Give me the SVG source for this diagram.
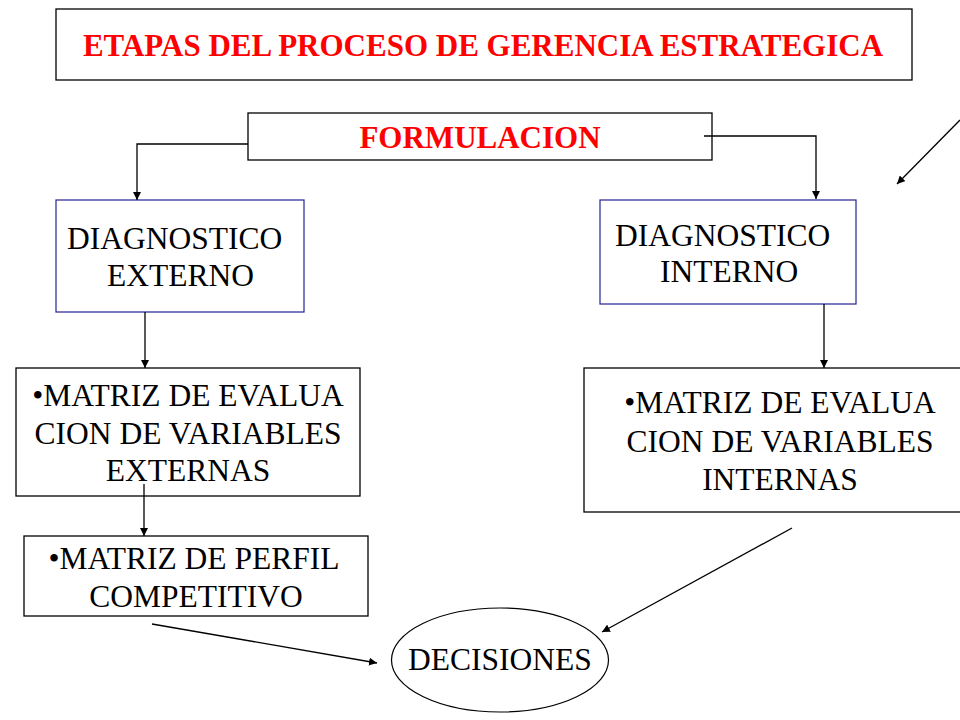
<svg xmlns="http://www.w3.org/2000/svg" width="960" height="720" viewBox="0 0 960 720">
<style>
.box{fill:#fff;stroke:#000;stroke-width:1.3}
.blue{fill:#fff;stroke:#333399;stroke-width:1.3}
.t{font-family:'Liberation Serif','Times New Roman',Times,'DejaVu Serif',serif;font-size:31.5px;fill:#000}
.r{font-family:'Liberation Serif','Times New Roman',Times,'DejaVu Serif',serif;font-size:31px;font-weight:bold;fill:#ff0000}
.c{fill:none;stroke:#000;stroke-width:1.3}
</style>
<defs>
<marker id="ah" viewBox="0 0 10 10" refX="10" refY="5" markerWidth="8" markerHeight="8" markerUnits="userSpaceOnUse" orient="auto">
<path d="M0,0 L10,5 L0,10 z" fill="#000"/>
</marker>
</defs>
<rect width="960" height="720" fill="#fff"/>
<g id="title">
<rect class="box" x="56" y="9" width="856" height="71"/>
<text class="r" x="483" y="56" text-anchor="middle">ETAPAS DEL PROCESO DE GERENCIA ESTRATEGICA</text>
</g>
<g id="formulacion">
<rect class="box" x="248" y="113" width="464" height="47"/>
<text class="r" x="480" y="148" text-anchor="middle">FORMULACION</text>
</g>
<g id="diag-externo">
<rect class="blue" x="56" y="200" width="248" height="112"/>
<text class="t" x="67" y="249">DIAGNOSTICO</text>
<text class="t" x="107" y="286">EXTERNO</text>
</g>
<g id="diag-interno">
<rect class="blue" x="600" y="200" width="256" height="104"/>
<text class="t" x="615" y="246">DIAGNOSTICO</text>
<text class="t" x="660" y="282">INTERNO</text>
</g>
<g id="matriz-externas">
<rect class="box" x="16" y="368" width="344" height="128"/>
<text class="t" x="188" y="406" text-anchor="middle">•MATRIZ DE EVALUA</text>
<text class="t" x="188" y="444" text-anchor="middle">CION DE VARIABLES</text>
<text class="t" x="188" y="481" text-anchor="middle">EXTERNAS</text>
</g>
<g id="matriz-internas">
<rect class="box" x="584" y="368" width="380" height="144"/>
<text class="t" x="780" y="413" text-anchor="middle">•MATRIZ DE EVALUA</text>
<text class="t" x="780" y="452" text-anchor="middle">CION DE VARIABLES</text>
<text class="t" x="780" y="490" text-anchor="middle">INTERNAS</text>
</g>
<g id="matriz-perfil">
<rect class="box" x="24" y="536" width="344" height="80"/>
<text class="t" x="194" y="569" text-anchor="middle">•MATRIZ DE PERFIL</text>
<text class="t" x="196" y="607" text-anchor="middle">COMPETITIVO</text>
</g>
<g id="decisiones">
<ellipse cx="500" cy="660" rx="108.5" ry="52" fill="#fff" stroke="#000" stroke-width="1.2"/>
<text class="t" x="500" y="670" text-anchor="middle">DECISIONES</text>
</g>
<g id="connectors">
<polyline class="c" points="248,144 137,144 137,200" marker-end="url(#ah)"/>
<polyline class="c" points="704,136 816,136 816,199" marker-end="url(#ah)"/>
<line class="c" x1="960" y1="120" x2="897" y2="184" marker-end="url(#ah)"/>
<line class="c" x1="145" y1="312" x2="145" y2="368" marker-end="url(#ah)"/>
<line class="c" x1="144" y1="484" x2="144" y2="536" marker-end="url(#ah)"/>
<line class="c" x1="824" y1="304" x2="824" y2="368" marker-end="url(#ah)"/>
<line class="c" x1="152" y1="624" x2="377" y2="663" marker-end="url(#ah)"/>
<line class="c" x1="792" y1="528" x2="602" y2="632" marker-end="url(#ah)"/>
</g>
</svg>
